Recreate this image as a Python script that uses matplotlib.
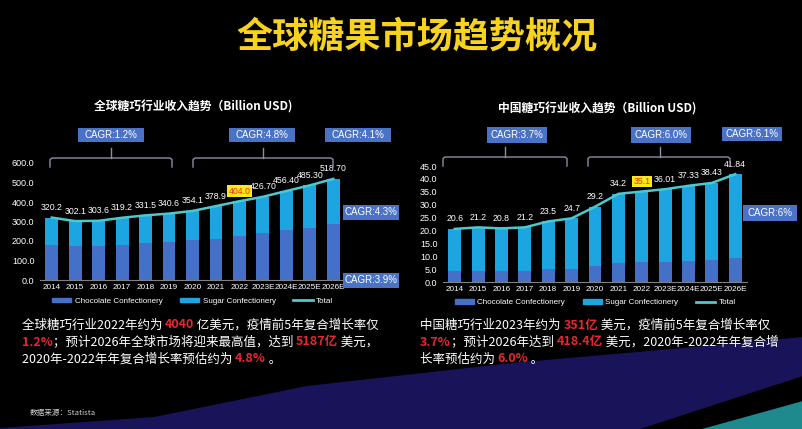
import matplotlib
matplotlib.use('Agg')
import matplotlib.pyplot as plt
from matplotlib.patches import Patch, Polygon, Rectangle
from matplotlib.lines import Line2D

plt.rcParams['font.family'] = ['Noto Sans CJK SC', 'DejaVu Sans']
LATIN = 'Liberation Sans'

years = ['2014', '2015', '2016', '2017', '2018', '2019', '2020', '2021', '2022',
         '2023E', '2024E', '2025E', '2026E']

# global market (Billion USD)
global_total = [320.2, 302.1, 303.6, 319.2, 331.5, 340.6, 354.1, 378.9, 404.0,
                426.70, 456.40, 485.30, 518.70]
global_labels = ['320.2', '302.1', '303.6', '319.2', '331.5', '340.6', '354.1',
                 '378.9', '404.0', '426.70', '456.40', '485.30', '518.70']
global_choc = [181, 172, 176, 181, 190, 193, 203, 212, 224, 241, 255, 267, 288]
global_sugar = [139.2, 130.1, 127.6, 138.2, 141.5, 147.6, 151.1, 166.9, 180.0,
                185.7, 201.4, 218.3, 230.7]

# china market (Billion USD)
china_total = [20.6, 21.2, 20.8, 21.2, 23.5, 24.7, 29.2, 34.2, 35.1,
               36.01, 37.33, 38.43, 41.84]
china_labels = ['20.6', '21.2', '20.8', '21.2', '23.5', '24.7', '29.2', '34.2',
                '35.1', '36.01', '37.33', '38.43', '41.84']
china_choc = [4.1, 4.1, 4.1, 4.4, 5.2, 5.2, 6.3, 7.4, 7.8, 7.8, 8.0, 8.4, 9.3]
china_sugar = [16.5, 17.1, 16.7, 16.8, 18.3, 19.5, 22.9, 26.8, 27.3,
               28.21, 29.33, 30.03, 32.54]

C_CHOC = '#4570C8'
C_SUGAR = '#1DA5E2'
C_TOTAL = '#4CC8CF'
C_BOX = '#4A72C6'
C_RED = '#E8262E'
C_BRK = '#8C8CA8'

W, H = 803, 429
fig = plt.figure(figsize=(W / 100, H / 100), dpi=100, facecolor='black')


def fx(x):
    return x / W


def fy(y):
    return 1 - y / H


# background swoosh
band = Polygon([(fx(0), fy(428)), (fx(154), fy(417)), (fx(307), fy(386)), (fx(512), fy(363)),
                (fx(717), fy(345)), (fx(803), fy(337)), (fx(803), fy(376)), (fx(640), fy(429)),
                (fx(0), fy(429))], closed=True, transform=fig.transFigure,
               facecolor='#19145A', edgecolor='none', zorder=-2)
fig.add_artist(band)
teal = Polygon([(fx(702), fy(429)), (fx(803), fy(401)), (fx(803), fy(429))], closed=True,
               transform=fig.transFigure, facecolor='#1E8A8E', edgecolor='none', zorder=-2)
fig.add_artist(teal)

fig.text(fx(417), fy(37), '全球糖果市场趋势概况', color='#F7D320', fontsize=26,
         fontweight='bold', ha='center', va='center')


def draw_chart(rect, choc, sugar, total, labels, ymax, ystep, hl):
    ax = fig.add_axes(rect)
    ax.set_facecolor('none')
    x = list(range(len(years)))
    ax.bar(x, choc, width=0.55, color=C_CHOC, zorder=2)
    ax.bar(x, sugar, width=0.55, bottom=choc, color=C_SUGAR, zorder=2)
    ax.plot(x, total, color=C_TOTAL, lw=1.8, zorder=3)
    for i, (v, s) in enumerate(zip(total, labels)):
        if i == hl:
            ax.annotate(s, (i, v), xytext=(0, 4), textcoords='offset points', ha='center',
                        va='bottom', fontsize=6.3, color='#E8331C', family=LATIN,
                        bbox=dict(boxstyle='square,pad=0.15', fc='#FFE81A', ec='none'), zorder=4)
        else:
            ax.annotate(s, (i, v), xytext=(0, 4), textcoords='offset points', ha='center',
                        va='bottom', fontsize=6.3, color='white', family=LATIN, zorder=4)
    ax.set_xlim(-0.5, len(years) - 0.5)
    ax.set_ylim(0, ymax)
    ticks = [i * ystep for i in range(int(ymax / ystep) + 1)]
    ax.set_yticks(ticks)
    ax.set_yticklabels(['%.1f' % t for t in ticks])
    ax.set_xticks(x)
    ax.set_xticklabels(years)
    ax.tick_params(colors='white', length=0, pad=3)
    ax.tick_params(axis='x', labelsize=5.9)
    ax.tick_params(axis='y', labelsize=6.5, pad=4)
    for lab in ax.get_xticklabels() + ax.get_yticklabels():
        lab.set_family(LATIN)
    for sp in ['top', 'right', 'left']:
        ax.spines[sp].set_visible(False)
    ax.spines['bottom'].set_color('#808080')
    handles = [Patch(color=C_CHOC, label='Chocolate Confectionery'),
               Patch(color=C_SUGAR, label='Sugar Confectionery'),
               Line2D([], [], color=C_TOTAL, lw=2, label='Total')]
    leg = ax.legend(handles=handles, loc='center', bbox_to_anchor=(0.5, -0.18), ncol=3,
                    frameon=False, fontsize=5.8, handlelength=2.4, handleheight=0.45,
                    columnspacing=2.2, handletextpad=0.4, labelcolor='white')
    for t in leg.get_texts():
        t.set_family(LATIN)
    return ax


draw_chart([fx(40), fy(280), (345 - 40) / W, (280 - 163) / H],
           global_choc, global_sugar, global_total, global_labels, 600, 100, 8)
draw_chart([fx(443), fy(282), (747 - 443) / W, (282 - 166) / H],
           china_choc, china_sugar, china_total, china_labels, 45, 5, 8)

fig.text(fx(193), fy(107), '全球糖巧行业收入趋势（Billion USD)', color='white', fontsize=8.5,
         fontweight='bold', ha='center', va='center')
fig.text(fx(597), fy(109), '中国糖巧行业收入趋势（Billion USD)', color='white', fontsize=8.5,
         fontweight='bold', ha='center', va='center')

# CAGR boxes: centre x, centre y, width, height
boxes = [(111, 135, 66, 14, 'CAGR:1.2%'), (262, 135, 66, 14, 'CAGR:4.8%'),
         (358, 135, 66, 14, 'CAGR:4.1%'), (371, 212, 56, 15, 'CAGR:4.3%'),
         (371, 280, 56, 15, 'CAGR:3.9%'),
         (517, 135, 60, 15, 'CAGR:3.7%'), (661, 135, 60, 15, 'CAGR:6.0%'),
         (752, 134, 60, 14, 'CAGR:6.1%'), (770, 213, 54, 16, 'CAGR:6%')]
for cx, cy, bw, bh, s in boxes:
    fig.add_artist(Rectangle((fx(cx - bw / 2), fy(cy + bh / 2)), bw / W, bh / H,
                             transform=fig.transFigure, facecolor=C_BOX, edgecolor='none'))
    fig.text(fx(cx), fy(cy), s, color='white', fontsize=7, family=LATIN,
             ha='center', va='center')

# brackets: left, right, tick x, line y
brackets = [(50, 172, 111, 158), (193, 333, 263, 158), (443, 567, 505, 157), (588, 730, 660, 157)]
for x0, x1, xm, y in brackets:
    xs = [x0, x0, x0 + 2, x1 - 2, x1, x1]
    ys = [y + 9, y + 1.5, y, y, y + 1.5, y + 9]
    fig.add_artist(Line2D([fx(v) for v in xs], [fy(v) for v in ys], color=C_BRK, lw=1,
                          transform=fig.transFigure))
    fig.add_artist(Line2D([fx(xm), fx(xm)], [fy(y), fy(y - 10)], color=C_BRK, lw=1,
                          transform=fig.transFigure))

# paragraphs with highlighted figures
left_lines = [
    [('全球糖巧行业2022年约为 ', 'white'), ('4040', C_RED), (' 亿美元，疫情前5年复合增长率仅', 'white')],
    [('1.2%', C_RED), ('；预计2026年全球市场将迎来最高值，达到 ', 'white'), ('5187亿', C_RED),
     (' 美元，', 'white')],
    [('2020年-2022年年复合增长率预估约为 ', 'white'), ('4.8%', C_RED), (' 。', 'white')],
]
right_lines = [
    [('中国糖巧行业2023年约为 ', 'white'), ('351亿', C_RED), (' 美元，疫情前5年复合增长率仅', 'white')],
    [('3.7%', C_RED), ('；预计2026年达到 ', 'white'), ('418.4亿', C_RED),
     (' 美元，2020年-2022年年复合增', 'white')],
    [('长率预估约为 ', 'white'), ('6.0%', C_RED), (' 。', 'white')],
]

renderer = fig.canvas.get_renderer()


def rich_lines(x0, y0, lines, dy):
    for k, parts in enumerate(lines):
        x = x0
        for s, c in parts:
            t = fig.text(fx(x), fy(y0 + k * dy), s, color=c, fontsize=9, ha='left', va='center',
                         fontweight='bold' if c == C_RED else 'normal')
            bb = t.get_window_extent(renderer)
            x += bb.width


rich_lines(22, 325, left_lines, 17)
rich_lines(420, 325, right_lines, 17)

fig.text(fx(30), fy(413), '数据来源：Statista', color='#D0D0D0', fontsize=5.5, ha='left', va='center')

fig.savefig('out.png', dpi=100, facecolor='black')
